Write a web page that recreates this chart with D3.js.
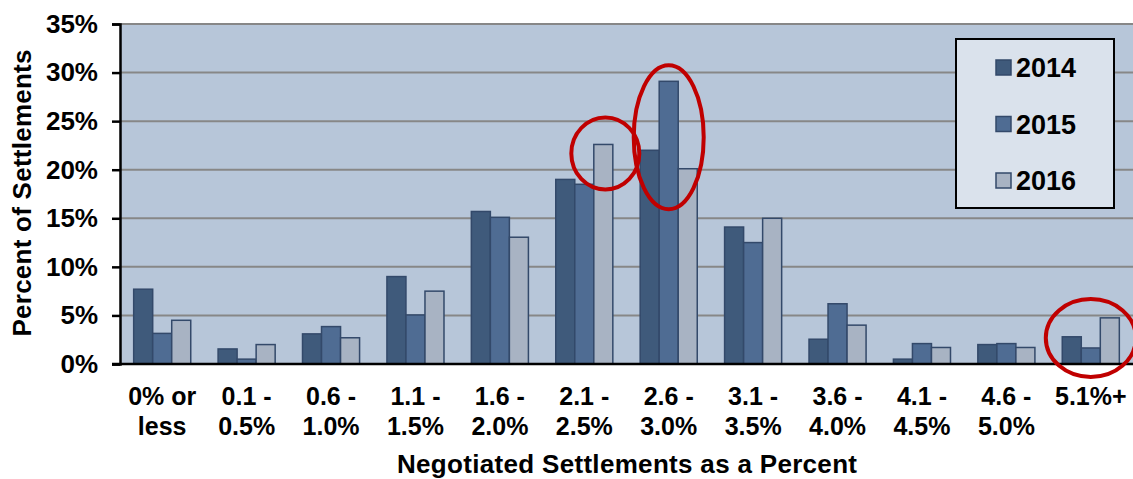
<!DOCTYPE html>
<html>
<head>
<meta charset="utf-8">
<script src="https://cdn.jsdelivr.net/npm/d3@7"></script>
<style>
  body { margin: 0; background: #fff; }
  text { font-family: "Liberation Sans", Arial, sans-serif; font-weight: bold; fill: #000; }
</style>
</head>
<body>
<div id="chart"></div>
<script>
// categories (two-line labels)
const categories = [
  ["0% or", "less"], ["0.1 -", "0.5%"], ["0.6 -", "1.0%"], ["1.1 -", "1.5%"],
  ["1.6 -", "2.0%"], ["2.1 -", "2.5%"], ["2.6 -", "3.0%"], ["3.1 -", "3.5%"],
  ["3.6 -", "4.0%"], ["4.1 -", "4.5%"], ["4.6 -", "5.0%"], ["5.1%+", ""]
];
const years = ["2014", "2015", "2016"];
const values2014 = [7.7, 1.55, 3.1, 9.0, 15.7, 19.0, 22.0, 14.1, 2.55, 0.5, 2.0, 2.8];
const values2015 = [3.15, 0.5, 3.85, 5.05, 15.1, 18.5, 29.1, 12.5, 6.2, 2.1, 2.1, 1.65];
const values2016 = [4.5, 2.0, 2.7, 7.5, 13.05, 22.6, 20.1, 15.0, 4.0, 1.7, 1.7, 4.75];
const yTicks = [0, 5, 10, 15, 20, 25, 30, 35];
// circled bars: category index and the years inside the circle
const highlights = [[5, ["2016"]], [6, ["2014", "2015", "2016"]], [11, ["2014", "2015", "2016"]]];

const seriesValues = [values2014, values2015, values2016];
const colors = ["#3f5a7b", "#4f6c93", "#a8b3c3"];

const width = 1133, height = 479;
const margin = {top: 24, right: 0, bottom: 115, left: 120};

const svg = d3.select("#chart").append("svg")
    .attr("width", width)
    .attr("height", height);

const x = d3.scaleBand()
    .domain(d3.range(categories.length))
    .range([margin.left, width - margin.right])
    .paddingInner(0.324)
    .paddingOuter(0.162);

const xSub = d3.scaleBand()
    .domain(years)
    .range([0, x.bandwidth()]);

const y = d3.scaleLinear()
    .domain([0, 35])
    .range([height - margin.bottom, margin.top]);

// plot background
svg.append("rect")
    .attr("x", margin.left)
    .attr("y", margin.top)
    .attr("width", width - margin.right - margin.left)
    .attr("height", y(0) - margin.top)
    .attr("fill", "#b7c6d9");

// gridlines
svg.append("g")
    .selectAll("line")
    .data(yTicks.filter(d => d > 0))
    .enter().append("line")
    .attr("x1", margin.left)
    .attr("x2", width - margin.right)
    .attr("y1", d => y(d))
    .attr("y2", d => y(d))
    .attr("stroke", "#878787")
    .attr("stroke-width", 2);

// bars
const groups = svg.append("g")
    .selectAll("g")
    .data(categories.map((c, i) => i))
    .enter().append("g")
    .attr("transform", i => "translate(" + x(i) + ",0)");

groups.selectAll("rect")
    .data(i => years.map((yr, k) => ({year: yr, k: k, v: seriesValues[k][i]})))
    .enter().append("rect")
    .attr("x", d => xSub(d.year))
    .attr("y", d => y(d.v))
    .attr("width", xSub.bandwidth())
    .attr("height", d => y(0) - y(d.v))
    .attr("fill", d => colors[d.k])
    .attr("stroke", "#33496a")
    .attr("stroke-width", 1.5);

// y axis
const yAxis = svg.append("g")
    .attr("transform", "translate(" + margin.left + ",0)")
    .call(d3.axisLeft(y).tickValues(yTicks).tickFormat(d => d + "%").tickSize(8).tickPadding(14));
yAxis.select(".domain").attr("stroke", "#000").attr("stroke-width", 2.5);
yAxis.selectAll(".tick line").attr("stroke", "#000").attr("stroke-width", 2.5);
yAxis.selectAll(".tick text")
    .attr("font-size", 26)
    .attr("font-family", "Liberation Sans, Arial, sans-serif")
    .attr("font-weight", "bold")
    .attr("fill", "#000");

// x axis baseline
svg.append("line")
    .attr("x1", margin.left - 8)
    .attr("x2", width)
    .attr("y1", y(0))
    .attr("y2", y(0))
    .attr("stroke", "#000")
    .attr("stroke-width", 2.5);

// x tick labels
const xl = svg.append("g")
    .selectAll("text")
    .data(categories)
    .enter().append("text")
    .attr("text-anchor", "middle")
    .attr("font-size", 25)
    .attr("x", (d, i) => x(i) + x.bandwidth() / 2)
    .attr("y", 405);
xl.append("tspan").text(d => d[0]);
xl.append("tspan")
    .attr("x", (d, i) => x(i) + x.bandwidth() / 2)
    .attr("dy", 30)
    .text(d => d[1]);

// axis titles
svg.append("text")
    .attr("x", 627)
    .attr("y", 473)
    .attr("text-anchor", "middle")
    .attr("font-size", 26)
    .attr("textLength", 460)
    .text("Negotiated Settlements as a Percent");

svg.append("text")
    .attr("transform", "translate(31,193) rotate(-90)")
    .attr("text-anchor", "middle")
    .attr("font-size", 26)
    .attr("textLength", 287)
    .text("Percent of Settlements");

// legend
const legend = svg.append("g").attr("transform", "translate(956,39)");
legend.append("rect")
    .attr("width", 158)
    .attr("height", 169)
    .attr("fill", "#dae2ec")
    .attr("stroke", "#000")
    .attr("stroke-width", 2);
years.forEach((yr, k) => {
  const row = legend.append("g").attr("transform", "translate(40," + (21 + k * 56.5) + ")");
  row.append("rect")
      .attr("x", 0).attr("y", 0)
      .attr("width", 15).attr("height", 15)
      .attr("fill", colors[k])
      .attr("stroke", "#33496a")
      .attr("stroke-width", 1.5);
  row.append("text")
      .attr("x", 20)
      .attr("y", 17)
      .attr("font-size", 27)
      .text(yr);
});

// red annotation ellipses around highlighted bars
const hl = svg.append("g");
highlights.forEach(([ci, yrs]) => {
  const x0 = x(ci) + xSub(yrs[0]);
  const x1 = x(ci) + xSub(yrs[yrs.length - 1]) + xSub.bandwidth();
  const top = d3.min(yrs, yr => y(seriesValues[years.indexOf(yr)][ci]));
  let cx = (x0 + x1) / 2, cy, rx, ry;
  if (yrs.length === 1) {
    cx += 2; cy = top + 9; rx = 34; ry = 36;
  } else if (ci === 6) {
    cy = top + 56; rx = 35; ry = 72;
  } else {
    cy = y(0) - 26; rx = 45; ry = 39;
  }
  hl.append("ellipse")
      .attr("cx", cx)
      .attr("cy", cy)
      .attr("rx", rx)
      .attr("ry", ry)
      .attr("fill", "none")
      .attr("stroke", "#c00000")
      .attr("stroke-width", 4);
});
</script>
</body>
</html>
